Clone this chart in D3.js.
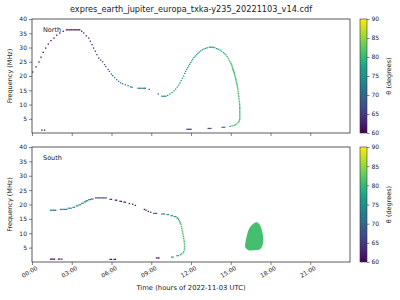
<!DOCTYPE html>
<html>
<head>
<meta charset="utf-8">
<script src="https://cdn.jsdelivr.net/npm/d3@7"></script>
<style>
  body { margin: 0; background: #fff; }
  text { font-family: "DejaVu Sans", sans-serif; fill: #222; }
</style>
</head>
<body>
<svg id="chart"></svg>
<script>
// North hemisphere: time (hours UTC), frequency (MHz), theta (degrees)
const northT = [
  0.05, 0.30, 0.53, 0.68, 0.85, 1.03, 1.23, 1.43, 1.66, 1.86, 2.10, 2.36,
  2.6, 2.7, 2.8, 2.9, 3.0, 3.1, 3.2, 3.3, 3.4, 3.5, 3.6,
  3.75, 3.90, 4.10, 4.28, 4.40, 4.53, 4.65, 4.78, 4.90, 5.03, 5.18,
  5.33, 5.48, 5.58, 5.74, 5.84, 5.99, 6.09, 6.24, 6.39, 6.54, 6.69, 6.84, 7.04, 7.25, 7.45, 7.55,
  8.0, 8.1, 8.2, 8.3, 8.4, 8.5, 8.55, 8.85, 9.53, 9.8, 9.9, 10.0, 10.1,
  10.24, 10.4, 10.57, 10.72, 10.84, 10.97, 11.08, 11.17, 11.26, 11.35, 11.44, 11.52, 11.6, 11.67,
  11.75, 11.82, 11.9, 11.98, 12.06, 12.13, 12.23, 12.33, 12.43, 12.53, 12.63, 12.73, 12.85, 12.98,
  13.1, 13.23, 13.38, 13.48, 13.58, 13.68, 13.8, 13.94, 14.06, 14.19, 14.3, 14.44, 14.54, 14.64,
  14.73, 14.82, 14.88, 14.94,
  15.0, 15.04, 15.07, 15.1, 15.12, 15.145, 15.17, 15.2, 15.22, 15.245,
  15.27, 15.295, 15.32, 15.345, 15.37, 15.39, 15.41, 15.43, 15.45, 15.47,
  15.49, 15.51, 15.53, 15.54, 15.56, 15.57, 15.58, 15.6, 15.62, 15.63,
  15.65, 15.66, 15.67, 15.675,
  15.68, 15.68, 15.68, 15.68, 15.68, 15.68, 15.68, 15.68, 15.68, 15.68,
  15.65, 15.62,
  15.55, 15.45, 15.35, 15.25, 15.1, 14.94,
  14.35, 14.45, 14.55, 13.3, 13.4, 13.5, 11.7, 11.8, 11.9, 12.0, 0.75, 0.95];
const northF = [
  21.4, 23.2, 24.9, 26.6, 28.3, 29.8, 31.2, 32.4, 33.3, 34.3, 35.1, 35.7,
  36.2, 36.2, 36.2, 36.2, 36.2, 36.2, 36.2, 36.2, 36.2, 36.2, 36.2,
  35.7, 35.1, 34.1, 33.3, 32.2, 31.0, 29.8, 28.7, 27.5, 26.3, 25.6,
  25.0, 24.0, 23.3, 22.3, 21.6, 20.7, 20.1, 19.4, 18.7, 18.1, 17.6, 17.3, 16.9, 16.6, 16.2, 16.0,
  15.7, 15.7, 15.7, 15.7, 15.7, 15.7, 15.7, 15.3, 13.7, 12.9, 12.9, 12.9, 12.9,
  13.2, 13.7, 14.2, 14.8, 15.4, 16.1, 16.8, 17.6, 18.4, 19.2, 20.0, 20.9, 21.6, 22.3,
  22.9, 23.5, 24.1, 24.7, 25.3, 25.9, 26.5, 27.0, 27.5, 28.0, 28.4, 28.8, 29.2, 29.5,
  29.7, 29.9, 30.1, 30.1, 30.1, 30.1, 29.9, 29.6, 29.4, 29.1, 28.7, 28.2, 27.8, 27.4,
  26.8, 26.2, 25.6, 25.0,
  24.5, 24.2, 23.9, 23.5, 23.1, 22.7, 22.3, 21.95, 21.6, 21.25,
  20.9, 20.45, 20.0, 19.6, 19.2, 18.75, 18.3, 17.85, 17.4, 16.95,
  16.5, 16.1, 15.7, 15.1, 14.5, 13.9, 13.3, 12.8, 12.2, 11.6,
  11.0, 10.5, 10.0, 9.5,
  9.0, 8.6, 8.1, 7.6, 7.1, 6.7, 6.2, 5.7, 5.2, 4.8,
  4.5, 4.0,
  3.6, 3.2, 2.9, 2.7, 2.5, 2.3,
  2.0, 2.0, 2.0, 1.6, 1.6, 1.6, 1.3, 1.3, 1.3, 1.3, 1.0, 1.0];
const northTheta = [
  60, 60, 60, 60, 60, 60, 60, 60, 60, 60, 60, 61,
  61, 61, 61, 61, 61, 61, 61, 61, 61, 61, 61,
  61, 61, 62, 62, 62, 62, 62, 63, 63, 63, 64,
  66, 67, 67, 67, 68, 68, 69, 70, 70, 71, 71, 71, 72, 72, 72, 73,
  73, 73, 73, 73, 73, 73, 73, 68, 68, 74, 74, 74, 74,
  75, 75, 76, 76, 76, 76, 76, 76, 76, 76, 76, 76, 76, 76,
  76, 76, 76, 76, 76, 76, 76, 76, 76, 76, 76, 76, 76, 76,
  76, 76, 76, 76, 76, 76, 76, 76, 77, 77, 78, 78, 79, 79,
  80, 80, 81, 81,
  81, 81, 81, 81, 81, 81, 81, 81, 81, 81,
  81, 81, 81, 81, 81, 81, 81, 81, 81, 81,
  81, 81, 81, 81, 81, 81, 81, 81, 81, 81,
  81, 81, 81, 81,
  81, 81, 81, 81, 81, 81, 81, 81, 81, 81,
  81, 81,
  81, 81, 80, 79, 78, 75,
  72, 72, 72, 66, 66, 66, 64, 64, 64, 64, 60, 60];

// South hemisphere
const southT = [1.4, 1.5, 1.6, 1.7, 1.79, 2.15, 2.25, 2.35, 2.45, 2.55, 2.62, 2.75, 2.85, 2.95,
  3.1, 3.2, 3.35, 3.45, 3.55, 3.65, 3.75, 3.85, 3.95, 4.05, 4.1, 4.2, 4.3, 4.4, 4.5, 4.6,
  4.8, 4.9, 5.0, 5.1, 5.2, 5.3, 5.4, 5.5, 5.6, 5.9, 6.0, 6.3, 6.38, 6.65, 6.75, 6.95, 7.05,
  7.35, 7.6, 7.8, 8.48, 8.6, 8.78, 8.96, 9.2, 9.3, 9.4, 9.8, 9.9, 10.0, 10.2, 10.3, 10.5, 10.6,
  10.75, 10.85, 10.95, 11.0, 11.06, 11.12, 11.17, 11.2, 11.25, 11.28, 11.31, 11.33, 11.36, 11.38,
  11.41, 11.43, 11.45, 11.47, 11.49, 11.5, 11.52, 11.52, 11.51, 11.5, 11.45, 11.4, 11.3, 11.2,
  11.05, 10.95, 10.55, 10.65,
  1.4, 1.5, 1.6, 1.7, 2.0, 2.1, 2.25, 5.9, 6.0, 6.2, 6.3, 9.4, 9.5, 9.58];
const southF = [18.0, 18.0, 18.0, 18.0, 18.0, 18.3, 18.3, 18.3, 18.3, 18.3, 18.3, 18.7, 18.7, 18.7,
  19.0, 19.0, 19.5, 19.5, 19.9, 19.9, 20.4, 20.4, 20.9, 20.9, 21.3, 21.3, 21.7, 21.7, 21.9, 21.9,
  22.3, 22.3, 22.3, 22.3, 22.3, 22.3, 22.3, 22.3, 22.3, 21.8, 21.8, 21.5, 21.5, 21.1, 21.1, 20.8, 20.8,
  20.3, 20.1, 19.7, 18.3, 18.0, 17.6, 17.3, 16.9, 16.9, 16.9, 16.7, 16.7, 16.7, 16.5, 16.5, 16.1, 16.1,
  15.8, 15.8, 15.3, 15.3, 14.8, 14.3, 13.9, 13.5, 13.0, 12.3, 11.7, 11.1, 10.5, 10.0,
  9.4, 8.8, 8.2, 7.6, 7.1, 6.5, 5.9, 5.3, 4.8, 4.2, 3.6, 3.2, 2.8, 2.5,
  2.2, 2.2, 1.7, 1.7,
  1.0, 1.0, 1.0, 1.0, 1.0, 1.0, 1.0, 0.9, 0.9, 0.9, 0.9, 1.4, 1.4, 1.4];
const southTheta = [70, 70, 70, 70, 70, 73, 73, 73, 73, 73, 73, 74, 74, 74,
  74, 74, 74, 74, 74, 74, 74, 74, 73, 73, 72, 72, 71, 71, 70, 70,
  67, 67, 67, 67, 67, 67, 67, 67, 67, 63, 63, 61, 61, 61, 61, 61, 61,
  61, 61, 61, 61, 61, 62, 63, 66, 66, 66, 72, 72, 72, 73, 73, 74, 74,
  75, 75, 76, 76, 77, 78, 79, 80, 81, 81, 81, 81, 81, 81,
  81, 81, 81, 81, 81, 81, 81, 81, 81, 81, 81, 80, 79, 78,
  76, 75, 73, 73,
  60, 60, 60, 60, 60, 60, 60, 60, 60, 60, 60, 61, 61, 61];

// South emission patch around 17h (outline)
const blobT = [16.96, 17.2, 17.38, 17.46, 17.38, 17.2, 16.8, 16.3, 16.08, 16.1, 16.2, 16.4, 16.7];
const blobF = [13.8, 12.9, 10.5, 7.7, 5.6, 4.4, 4.1, 4.2, 5.3, 6.5, 8.8, 11.7, 13.3];
const blobTheta = 81;

const freqTicks = [5, 10, 15, 20, 25, 30, 35, 40];
const timeTicks = [0, 3, 6, 9, 12, 15, 18, 21];
const thetaTicks = [60, 65, 70, 75, 80, 85, 90];

const W = 400, H = 300;
const plotL = 32, plotR = 350;
const panels = [
  {name: "North", top: 19, bottom: 133, t: northT, f: northF, th: northTheta, blob: false},
  {name: "South", top: 147, bottom: 262, t: southT, f: southF, th: southTheta, blob: true}
];

const svg = d3.select("#chart").attr("width", W).attr("height", H);

const x = d3.scaleLinear().domain([0, 24]).range([plotL, plotR]);
const color = d3.scaleSequential(d3.interpolateViridis).domain([60, 90]);

// gradient for colorbars
const grad = svg.append("defs").append("linearGradient")
  .attr("id", "viridis").attr("x1", 0).attr("y1", 1).attr("x2", 0).attr("y2", 0);
d3.range(0, 1.001, 0.05).forEach(s => {
  grad.append("stop").attr("offset", s).attr("stop-color", d3.interpolateViridis(s));
});

svg.append("text")
  .attr("x", (plotL + plotR) / 2).attr("y", 12)
  .attr("text-anchor", "middle").style("font-size", "8.2px")
  .text("expres_earth_jupiter_europa_txka-y235_20221103_v14.cdf");

panels.forEach((p, pi) => {
  const y = d3.scaleLinear().domain([0, 40]).range([p.bottom, p.top]);
  const g = svg.append("g");

  // points
  const pts = p.t.map((t, i) => ({t: t, f: p.f[i], th: p.th[i]}));
  g.selectAll("rect.pt")
    .data(pts)
    .enter()
    .append("rect")
    .attr("class", "pt")
    .attr("x", d => x(d.t) - 0.7)
    .attr("y", d => y(d.f) - 0.6)
    .attr("width", 1.4)
    .attr("height", 1.2)
    .attr("fill", d => color(d.th));

  if (p.blob) {
    const outline = blobT.map((t, i) => [x(t), y(blobF[i])]);
    g.append("path")
      .attr("d", d3.line().curve(d3.curveCatmullRomClosed)(outline))
      .attr("fill", color(blobTheta));
  }

  // axes
  const yAxis = d3.axisLeft(y).tickValues(freqTicks).tickSize(3).tickPadding(2);
  const ya = g.append("g").attr("transform", `translate(${plotL},0)`).call(yAxis);
  ya.select(".domain").remove();
  ya.selectAll("text").style("font-size", "6px");

  const xAxis = d3.axisBottom(x).tickValues(timeTicks).tickSize(3)
    .tickFormat(d => d3.format("02d")(d) + ":00");
  const xa = g.append("g").attr("transform", `translate(0,${p.bottom})`).call(xAxis);
  xa.select(".domain").remove();
  if (pi === 0) {
    xa.selectAll("text").remove();
  } else {
    xa.selectAll("text")
      .style("font-size", "6px")
      .attr("text-anchor", "end")
      .attr("transform", "translate(2,1) rotate(-30)")
      .attr("y", 3).attr("dy", "0.71em");
  }
  svg.selectAll(".tick line").attr("stroke", "#333").attr("stroke-width", 0.6);

  g.append("rect")
    .attr("x", plotL).attr("y", p.top)
    .attr("width", plotR - plotL).attr("height", p.bottom - p.top)
    .attr("fill", "none").attr("stroke", "#333").attr("stroke-width", 0.8);

  g.append("text")
    .attr("x", 43).attr("y", p.top + 13)
    .style("font-size", "6.5px")
    .text(p.name);

  g.append("text")
    .attr("transform", `translate(12,${(p.top + p.bottom) / 2}) rotate(-90)`)
    .attr("text-anchor", "middle").style("font-size", "6.5px")
    .text("Frequency (MHz)");

  // colorbar
  const cbX = 360, cbW = 7;
  const cy = d3.scaleLinear().domain([60, 90]).range([p.bottom, p.top]);
  g.append("rect")
    .attr("x", cbX).attr("y", p.top)
    .attr("width", cbW).attr("height", p.bottom - p.top)
    .attr("fill", "url(#viridis)").attr("stroke", "#333").attr("stroke-width", 0.6);
  const ca = g.append("g").attr("transform", `translate(${cbX + cbW},0)`)
    .call(d3.axisRight(cy).tickValues(thetaTicks).tickSize(2.5).tickPadding(2));
  ca.select(".domain").remove();
  ca.selectAll("text").style("font-size", "6px");
  ca.selectAll(".tick line").attr("stroke", "#333").attr("stroke-width", 0.6);

  g.append("text")
    .attr("transform", `translate(391,${(p.top + p.bottom) / 2}) rotate(-90)`)
    .attr("text-anchor", "middle").style("font-size", "6.5px")
    .text("θ (degrees)");
});

svg.append("text")
  .attr("x", (plotL + plotR) / 2).attr("y", 290)
  .attr("text-anchor", "middle").style("font-size", "6.8px")
  .text("Time (hours of 2022-11-03 UTC)");
</script>
</body>
</html>
